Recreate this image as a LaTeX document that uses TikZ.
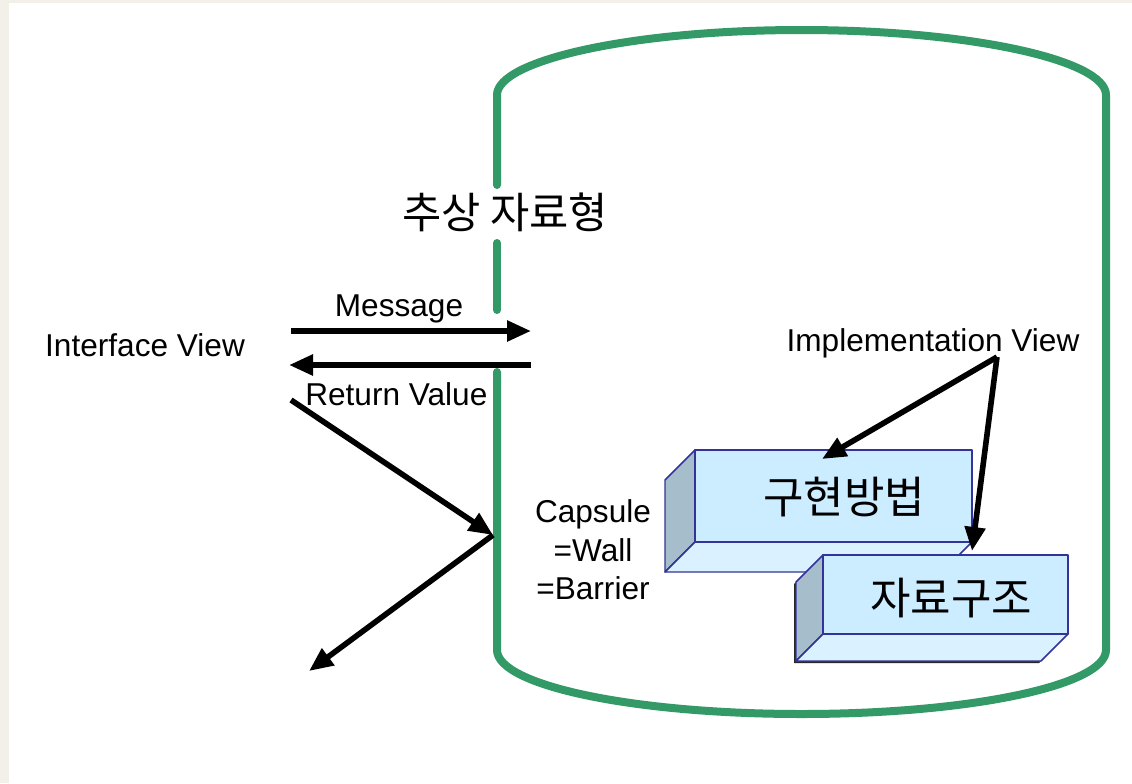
\documentclass[tikz,border=0pt]{standalone}
\usepackage{fontspec}
\setmainfont{Liberation Sans}
\newfontfamily\kr{Noto Sans CJK KR}
\usetikzlibrary{arrows.meta}
\definecolor{bgbeige}{RGB}{243,239,233}
\definecolor{wallgreen}{RGB}{51,153,102}
\definecolor{boxfront}{RGB}{204,236,255}
\definecolor{boxleft}{RGB}{166,189,204}
\definecolor{boxbottom}{RGB}{218,241,255}
\definecolor{boxline}{RGB}{51,51,153}
\tikzset{
  wall/.style={draw=wallgreen, line width=6pt, line cap=round, line join=round},
  arr/.style={draw=black, line width=4.2pt, -{Triangle[length=18pt,width=15pt]}},
  lbl/.style={inner sep=0pt, font=\fontsize{23.7pt}{29pt}\selectfont},
  krlbl/.style={inner sep=0pt, font=\kr\fontsize{32pt}{36pt}\selectfont},
  krbox/.style={inner sep=0pt, font=\kr\fontsize{33pt}{37pt}\selectfont},
  face/.style={draw=boxline, line width=1.1pt, line join=round}
}
\begin{document}
\begin{tikzpicture}[x=0.75pt,y=-0.75pt]
\fill[bgbeige] (0,0) rectangle (1132,783);
\fill[white] (9,3) rectangle (1132,783);
\useasboundingbox (0,0) rectangle (1132,783);

% cylinder
\draw[wall] (497,185) -- (497,95)
  .. controls (497,60) and (633.3,30) .. (801.5,30)
  .. controls (969.7,30) and (1106,60) .. (1106,95)
  -- (1106,650)
  .. controls (1106,685.4) and (969.7,714) .. (801.5,714)
  .. controls (633.3,714) and (497,685.4) .. (497,650)
  -- (497,372);
\draw[wall] (497,243) -- (497,310);

% labels
\node[krlbl] (title) at (505,212) {추상 자료형};
\node[lbl, anchor=base] (msg) at (399,316) {Message};
\node[lbl, anchor=base west] (rv) at (305,405) {Return Value};
\node[lbl, anchor=base] (iv) at (145,356) {Interface View};
\node[lbl, anchor=base] (impl) at (933,351) {Implementation View};
\node[lbl, align=center, anchor=center] (cap) at (593,550) {Capsule\\=Wall\\=Barrier};

% box 1
\fill[boxfront] (695,450) rectangle (972,542);
\draw[face, fill=boxleft] (695,450) -- (665,480) -- (665,572) -- (695,542) -- cycle;
\draw[face, fill=boxbottom] (695,542) -- (665,572) -- (942,572) -- (972,542) -- cycle;
\draw[face] (695,450) rectangle (972,542);
\node[krbox] (impl1) at (844,497) {구현방법};

% box 2 (with thin shadow)
\fill[black!85] (821,557) -- (1066,557) -- (1066,636) -- (1039,663) -- (794,663) -- (794,584) -- cycle;
\fill[boxfront] (823,555) rectangle (1068,634);
\draw[face, fill=boxleft] (823,555) -- (796,582) -- (796,661) -- (823,634) -- cycle;
\draw[face, fill=boxbottom] (823,634) -- (796,661) -- (1041,661) -- (1068,634) -- cycle;
\draw[face] (823,555) rectangle (1068,634);
\node[krbox] (impl2) at (951,598) {자료구조};

% connector points
\coordinate (m1) at (291,331);
\coordinate (m2) at (531,331);
\coordinate (r1) at (531,365);
\coordinate (r2) at (289,365);
\coordinate (d1) at (291,400);
\coordinate (w) at (493,535);
\coordinate (d2) at (309,671);
\coordinate (ip) at (997,357);
\coordinate (t1) at (822,459);
\coordinate (t2) at (972,551);

\draw[arr] (m1) -- (m2);
\draw[arr] (r1) -- (r2);
\draw[arr] (d1) -- (w);
\draw[arr] (w) -- (d2);
\draw[arr] (ip) -- (t1);
\draw[arr] (ip) -- (t2);
\end{tikzpicture}
\end{document}
